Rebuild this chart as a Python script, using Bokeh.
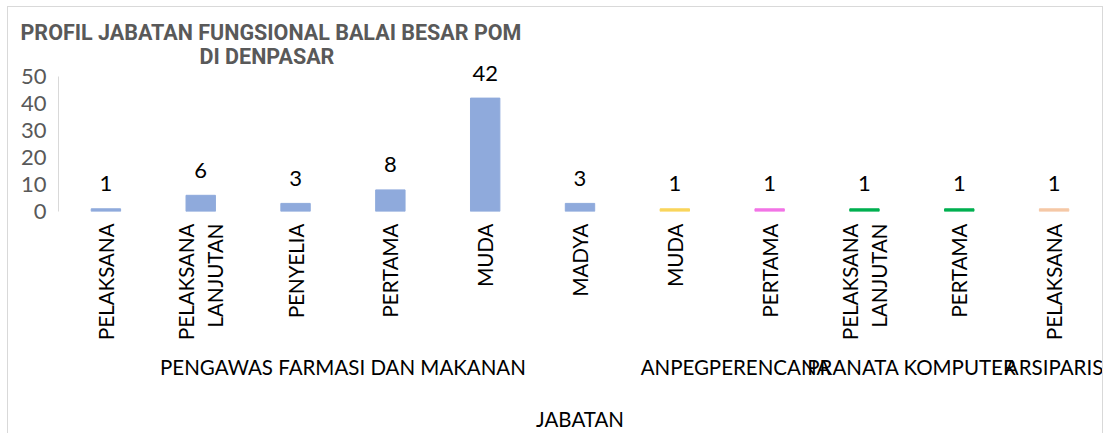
import math
from bokeh.plotting import figure
from bokeh.models import (FactorRange, ColumnDataSource, LabelSet, Title, FixedTicker,
                          Range1d, InlineStyleSheet)
from bokeh.core.properties import value
from bokeh.embed import file_html
from bokeh.resources import INLINE

# ---- data ----
groups = ["PENGAWAS FARMASI DAN MAKANAN"] * 6 + [
    "ANPEG", "PERENCANA", "PRANATA KOMPUTER", "PRANATA KOMPUTER", "ARSIPARIS"]
levels = ["PELAKSANA", "PELAKSANA\nLANJUTAN", "PENYELIA", "PERTAMA", "MUDA", "MADYA",
          "MUDA", "PERTAMA", "PELAKSANA\nLANJUTAN", "PERTAMA", "PELAKSANA"]
values = [1, 6, 3, 8, 42, 3, 1, 1, 1, 1, 1]
group_colors = {
    "PENGAWAS FARMASI DAN MAKANAN": "#8FAADC",
    "ANPEG": "#F9D55C",
    "PERENCANA": "#F274E6",
    "PRANATA KOMPUTER": "#00B050",
    "ARSIPARIS": "#F5C8A6",
}
y_ticks = [0, 10, 20, 30, 40, 50]
title_line1 = "PROFIL JABATAN FUNGSIONAL BALAI BESAR POM"
title_line2 = "DI DENPASAR"
x_title = "JABATAN"

factors = list(zip(groups, levels))
source = ColumnDataSource(dict(
    x=factors,
    v=values,
    label=[str(v) for v in values],
    color=[group_colors[g] for g in groups],
))

FONT = "Lato"
PX_PER_UNIT = 2.7
FRAME_TOP = 62
FRAME_BOTTOM = 211

p = figure(width=1104, height=433, output_backend="svg", toolbar_location=None,
           title_location=None,
           x_range=FactorRange(*factors, group_padding=0, range_padding=0),
           y_range=Range1d(0, (FRAME_BOTTOM - FRAME_TOP) / PX_PER_UNIT),
           min_border_left=58, min_border_right=3, min_border_top=FRAME_TOP,
           min_border_bottom=433 - FRAME_BOTTOM)
p.outline_line_color = None
p.xgrid.grid_line_color = None
p.ygrid.grid_line_color = None
p.background_fill_color = "white"
p.border_fill_color = "white"
p.stylesheets = [InlineStyleSheet(css="""
:host { position: relative; }
:host::after { content: ""; position: absolute; left: 7px; top: 6px; right: 1px; bottom: 0px;
  border: 1px solid #d9d9d9; border-bottom: none; pointer-events: none; }
""")]

p.vbar(x="x", top="v", width=0.31, source=source, fill_color="color", line_color="color")

p.add_layout(LabelSet(x="x", y="v", text="label", source=source, y_offset=25,
                      text_align="center", text_baseline="middle",
                      text_font=value(FONT), text_font_size=value("22px"),
                      text_color=value("black")))

# y axis
p.yaxis.ticker = FixedTicker(ticks=y_ticks)
p.yaxis.bounds = (0, 50)
p.yaxis.axis_line_color = "#d9d9d9"
p.yaxis.major_tick_line_color = None
p.yaxis.minor_tick_line_color = None
p.yaxis.major_tick_out = 0
p.yaxis.major_label_text_font = FONT
p.yaxis.major_label_text_font_size = "22px"
p.yaxis.major_label_text_color = "#595959"
p.yaxis.major_label_standoff = 12

# x axis
p.xaxis.axis_line_color = None
p.xaxis.major_tick_line_color = None
p.xaxis.minor_tick_line_color = None
p.xaxis.major_tick_out = 0
p.xaxis.major_label_orientation = math.pi / 2
p.xaxis.major_label_text_font = FONT
p.xaxis.major_label_text_font_size = "20.5px"
p.xaxis.major_label_text_color = "black"
p.xaxis.major_label_standoff = 12
p.xaxis.group_text_font = FONT
p.xaxis.group_text_font_size = "20.5px"
p.xaxis.group_text_color = "black"
p.xaxis.group_text_font_style = "normal"
p.xaxis.separator_line_color = None
p.xaxis.axis_label = x_title
p.xaxis.axis_label_text_font = FONT
p.xaxis.axis_label_text_font_size = "20.5px"
p.xaxis.axis_label_text_font_style = "normal"
p.xaxis.axis_label_text_color = "black"
p.xaxis.axis_label_text_line_height = 0.9
p.xaxis.axis_label_standoff = 25

# title: two lines, the later one added sits on top
for txt, off, so in ((title_line2, 141, -13), (title_line1, -38, 8)):
    p.add_layout(Title(text=txt, align="left", offset=off, standoff=so,
                       text_font="Roboto", text_font_style="bold",
                       text_font_size="21.5px", text_color="#595959"), "above")

open("out.html", "w").write(file_html(p, INLINE))
